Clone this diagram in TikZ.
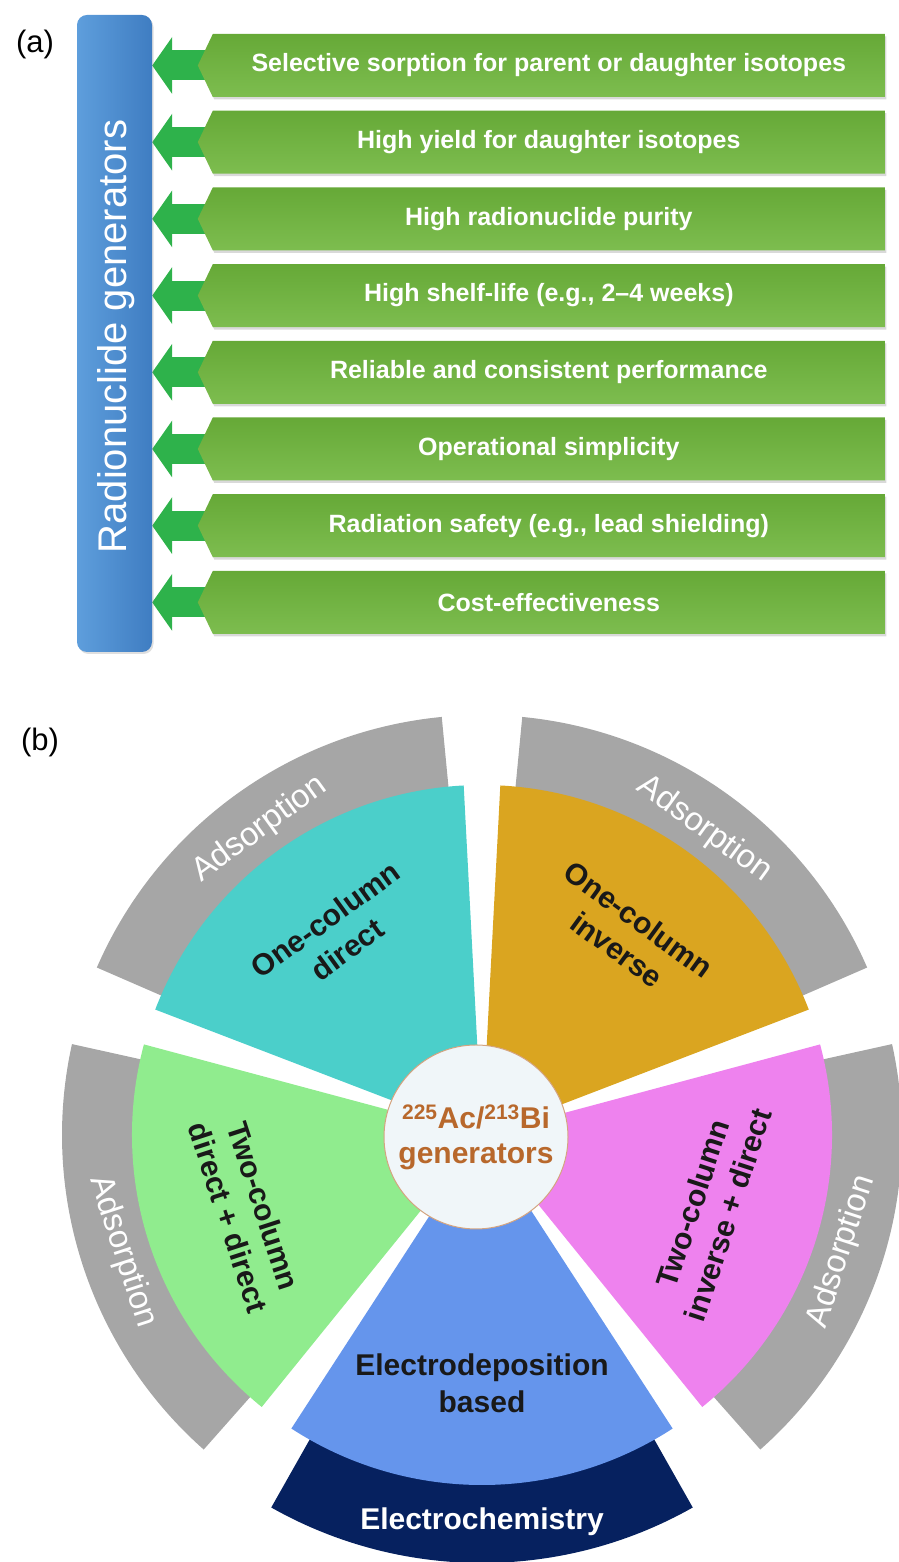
\documentclass[tikz,border=0pt]{standalone}
\usepackage{fontspec}
\setmainfont{Liberation Sans}
\usetikzlibrary{calc,positioning,shapes.symbols,arrows.meta,shadows,backgrounds}

\definecolor{genblueL}{HTML}{5E9EDC}
\definecolor{genblueR}{HTML}{3F7DC2}
\definecolor{barTop}{HTML}{66A937}
\definecolor{barBot}{HTML}{7DBD4F}
\definecolor{tipgreen}{HTML}{2EB24B}
\definecolor{bandgrey}{HTML}{A6A6A6}
\definecolor{navyband}{HTML}{06215F}
\definecolor{wteal}{HTML}{4BCFCA}
\definecolor{wgold}{HTML}{DAA520}
\definecolor{wgreen}{HTML}{90EC8E}
\definecolor{wviolet}{HTML}{EE82EE}
\definecolor{wblue}{HTML}{6595EC}
\definecolor{hubtext}{HTML}{B8682C}
\definecolor{hubfill}{HTML}{F0F6F9}

\tikzset{
    featbar/.style = {signal, signal to=west, signal pointer angle=129, anchor=east,
            minimum width=687pt, minimum height=63pt, inner sep=0pt,
            top color=barTop, bottom color=barBot, text=white,
            font=\bfseries\fontsize{25}{29}\selectfont,
            drop shadow={opacity=.3, shadow xshift=1.5pt, shadow yshift=-2.5pt}},
    feedarrow/.style = {draw=tipgreen, line width=30pt, -{Triangle[length=20pt, width=56pt]}},
    genbox/.style = {rounded corners=10pt, minimum width=75pt, minimum height=637pt,
            left color=genblueL, right color=genblueR,
            drop shadow={opacity=.25, shadow xshift=1.5pt, shadow yshift=-2pt}},
    bandtext/.style = {text=white, font=\fontsize{33}{38}\selectfont},
    wedgetext/.style = {align=center, text=black!90, font=\bfseries\fontsize{30}{37}\selectfont},
    hub/.style = {circle, minimum size=184pt, inner sep=0pt, fill=hubfill, draw=hubtext!60,
            line width=1pt, align=center, text=hubtext, font=\bfseries\fontsize{30}{35}\selectfont},
    panel/.style = {font=\fontsize{31}{36}\selectfont}
}

\begin{document}
\begin{tikzpicture}[x=1pt, y=1pt]
    \useasboundingbox (0,0) rectangle (898,1562);

    % (a) requirements
    \node[panel] (pa) at (35,1517) {(a)};
    \node[genbox] (gen) at (114.5,1228.5) {};
    \node[rotate=90, text=white, font=\fontsize{40}{46}\selectfont] (genlabel) at ([xshift=2pt,yshift=-3pt]gen.center) {Radionuclide generators};

    \foreach \txt [count=\i] in {Selective sorption for parent or daughter isotopes,
            High yield for daughter isotopes,
            High radionuclide purity,
            {High shelf-life (e.g., 2–4 weeks)},
            Reliable and consistent performance,
            Operational simplicity,
            {Radiation safety (e.g., lead shielding)},
            Cost-effectiveness}
        {
            \node[featbar] (b\i) at (885,{1496.5-76.7*(\i-1)}) {\txt};
            \begin{pgfonlayer}{background}
                \draw[feedarrow] ([xshift=22pt]b\i.west) -- (gen.east |- b\i.west);
            \end{pgfonlayer}
        }

    % (b) generator types
    \node[panel] (pb) at (40,820) {(b)};
    \coordinate (C) at (482,427);

    \foreach \a/\h/\ro/\col in {126/30.5/420/bandgrey, 54/30.5/420/bandgrey, 198/30.5/420/bandgrey,
            342/30.5/420/bandgrey, 270/29.5/428/navyband}
        \fill[\col, shift={(C)}] (\a-\h:330pt) arc[start angle=\a-\h, end angle=\a+\h, radius=330pt]
            -- (\a+\h:\ro pt) arc[start angle=\a+\h, end angle=\a-\h, radius=\ro pt] -- cycle;

    \foreach \a/\rot [count=\k] in {126/36, 54/-36, 198/-72, 342/72}
        \node[bandtext, rotate=\rot] (ads\k) at ($(C)+(\a:378pt)$) {Adsorption};
    \node[bandtext, font=\bfseries\fontsize{30}{35}\selectfont] (echem) at ($(C)+(270:387pt)$) {Electrochemistry};

    \foreach \a/\col in {126/wteal, 54/wgold, 198/wgreen, 342/wviolet, 270/wblue}
        \fill[\col, shift={(C)}] (0,0) -- (\a-33:350pt) arc[start angle=\a-33, end angle=\a+33, radius=350pt] -- cycle;

    \node[wedgetext, rotate=36] (w1) at ($(C)+(126:248pt)$) {One-column\\direct};
    \node[wedgetext, rotate=-36] (w2) at ($(C)+(54:248pt)$) {One-column\\inverse};
    \node[wedgetext, rotate=-72] (w3) at ($(C)+(198:248pt)$) {Two-column\\direct + direct};
    \node[wedgetext, rotate=72] (w4) at ($(C)+(342:240pt)$) {Two-column\\inverse + direct};
    \node[wedgetext] (w5) at ($(C)+(270:248pt)$) {Electrodeposition\\based};

    \node[hub] (hub) at (476,425) {\textsuperscript{225}Ac/\textsuperscript{213}Bi\\generators};
\end{tikzpicture}
\end{document}
